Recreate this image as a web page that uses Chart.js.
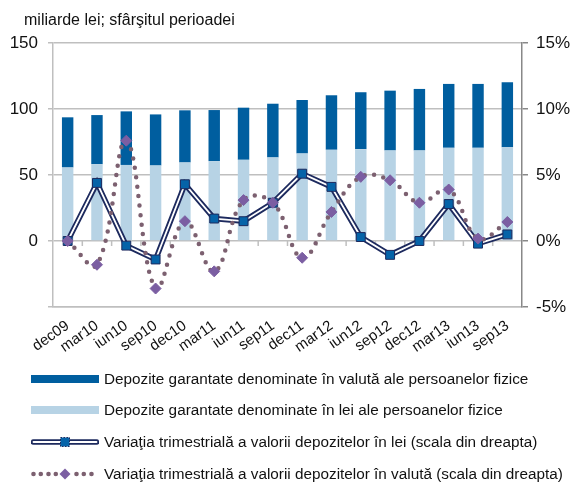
<!DOCTYPE html>
<html><head><meta charset="utf-8">
<script src="https://cdn.jsdelivr.net/npm/chart.js@4.4.1/dist/chart.umd.min.js"></script>
<style>
html,body{margin:0;padding:0;background:#fff;}
#wrap{position:relative;width:572px;height:483px;overflow:hidden;font-family:"Liberation Sans",Arial,sans-serif;color:#111;}
#c{position:absolute;left:0;top:0;}
#title{position:absolute;left:24px;top:11px;font-size:16px;white-space:nowrap;}
.leg{position:absolute;left:31px;height:20px;display:flex;align-items:center;font-size:15.3px;white-space:nowrap;}
.leg svg{margin-right:5px;flex:none;}
</style></head>
<body><div id="wrap"><canvas id="c" width="572" height="483"></canvas>
<div id="title">miliarde lei; sfârşitul perioadei</div>
<div id="legend"></div></div>
<script>
const categories = ['dec09','mar10','iun10','sep10','dec10','mar11','iun11','sep11','dec11','mar12','iun12','sep12','dec12','mar13','iun13','sep13'];
const depoziteLei = [55.7, 58.2, 57.6, 57.2, 59.5, 60.5, 61.5, 63.3, 66.3, 69.1, 69.6, 68.6, 68.6, 70.6, 70.6, 71.1];
const depoziteValuta = [38.0, 37.2, 40.6, 38.7, 39.5, 38.7, 39.5, 40.7, 40.5, 41.3, 43.1, 45.3, 46.6, 48.4, 48.4, 49.2];
const variatieLei = [0, 4.4, -0.35, -1.4, 4.3, 1.7, 1.5, 2.9, 5.1, 4.1, 0.3, -1.05, 0, 2.8, -0.2, 0.5];
const variatieValuta = [0, -1.8, 7.6, -3.6, 1.5, -2.3, 3.1, 2.9, -1.27, 2.2, 4.86, 4.6, 2.9, 3.9, 0.18, 1.44];
const leftTicks = [-50, 0, 50, 100, 150];
const rightTicks = [-5, 0, 5, 10, 15];

const legendLabels = [
  'Depozite garantate denominate în valută ale persoanelor fizice',
  'Depozite garantate denominate în lei ale persoanelor fizice',
  'Variaţia trimestrială a valorii depozitelor în lei (scala din dreapta)',
  'Variaţia trimestrială a valorii depozitelor în valută (scala din dreapta)'
];

const DARK = '#005E9F', LIGHT = '#B7D3E5', NAVY = '#1D2A5E', SQ = '#0563A8', DOT = '#7C6070', DIA = '#7B5EA2';
const GRID = '#BFBFBF';
const FONT = '"Liberation Sans", Arial, sans-serif';

const zeroTicks = {
  id: 'zeroTicks',
  beforeDatasetsDraw(chart) {
    const x = chart.scales.x, y = chart.scales.y, ctx = chart.ctx;
    const y0 = y.getPixelForValue(0);
    ctx.save();
    ctx.strokeStyle = GRID; ctx.lineWidth = 1.5;
    for (let i = 1; i < categories.length; i++) {
      const xb = (x.getPixelForValue(i - 1) + x.getPixelForValue(i)) / 2;
      ctx.beginPath(); ctx.moveTo(xb, y0); ctx.lineTo(xb, y0 + 5); ctx.stroke();
    }
    ctx.restore();
  }
};

new Chart(document.getElementById('c'), {
  data: {
    labels: categories,
    datasets: [
      { type: 'bar', label: legendLabels[1], data: depoziteLei, backgroundColor: LIGHT, yAxisID: 'y', order: 10, barPercentage: 0.39, categoryPercentage: 1 },
      { type: 'bar', label: legendLabels[0], data: depoziteValuta, backgroundColor: DARK, yAxisID: 'y', order: 11, barPercentage: 0.39, categoryPercentage: 1 },
      { type: 'line', label: 'outer', data: variatieLei, yAxisID: 'y1', borderColor: NAVY, borderWidth: 5.5, pointRadius: 0, tension: 0, order: 4, borderJoinStyle: 'miter' },
      { type: 'line', label: legendLabels[2], data: variatieLei, yAxisID: 'y1', borderColor: '#ffffff', borderWidth: 1.8, tension: 0, order: 3,
        pointStyle: 'rect', pointRadius: 6.3, pointBackgroundColor: SQ, pointBorderColor: NAVY, pointBorderWidth: 1 },
      { type: 'line', label: legendLabels[3], data: variatieValuta, yAxisID: 'y1', borderColor: DOT, borderWidth: 4.5, borderDash: [0, 9.5], borderCapStyle: 'round',
        tension: 0.4, order: 2, pointStyle: 'rectRot', pointRadius: 5.5, pointBackgroundColor: DIA, pointBorderColor: DIA, pointBorderWidth: 1 }
    ]
  },
  options: {
    responsive: false, animation: false,
    layout: { padding: { top: 43, left: 0, right: 0, bottom: 0 } },
    plugins: { legend: { display: false }, tooltip: { enabled: false } },
    scales: {
      x: {
        stacked: true,
        grid: { display: false },
        border: { display: true, color: GRID, width: 1.5 },
        ticks: { color: '#111', font: { family: FONT, size: 15 }, minRotation: 35, maxRotation: 35, padding: 2, autoSkip: false },
        afterFit(s) { s.height = 176; }
      },
      y: {
        stacked: true, position: 'left', min: -50, max: 150,
        afterBuildTicks(s) { s.ticks = leftTicks.map(v => ({ value: v })); },
        grid: { color: GRID, lineWidth: 1.5, tickLength: 5 },
        border: { color: GRID, width: 1.5 },
        ticks: { color: '#111', font: { family: FONT, size: 17 }, padding: 10, callback: v => v === -50 ? '' : v },
        afterFit(s) { s.width = 53; }
      },
      y1: {
        position: 'right', min: -5, max: 15,
        afterBuildTicks(s) { s.ticks = rightTicks.map(v => ({ value: v })); },
        grid: { drawOnChartArea: false, color: '#888', lineWidth: 1.5, tickLength: 6 },
        border: { color: '#888', width: 1.5 },
        ticks: { color: '#111', font: { family: FONT, size: 17 }, padding: 8, callback: v => v + '%' },
        afterFit(s) { s.width = 50; }
      }
    }
  },
  plugins: [zeroTicks]
});

// HTML legend
const symbols = [
  `<svg width="68" height="14"><rect x="0" y="3" width="68" height="8" fill="${DARK}"/></svg>`,
  `<svg width="68" height="14"><rect x="0" y="3" width="68" height="8" fill="${LIGHT}"/></svg>`,
  `<svg width="68" height="14"><line x1="2.5" y1="7" x2="65.5" y2="7" stroke="${NAVY}" stroke-width="5.5" stroke-linecap="round"/><line x1="2.5" y1="7" x2="65.5" y2="7" stroke="#fff" stroke-width="1.8" stroke-linecap="round"/><rect x="29.5" y="2.5" width="9" height="9" fill="${SQ}" stroke="${NAVY}" stroke-width="1" stroke-dasharray="1.5 1.5"/></svg>`,
  `<svg width="68" height="14">` + [2.5, 9.8, 17.5, 24.8, 45.5, 52.8, 60.5].map(cx => `<circle cx="${cx}" cy="7" r="2.3" fill="${DOT}"/>`).join('') +
    `<polygon points="34,1.5 39.5,7 34,12.5 28.5,7" fill="${DIA}"/></svg>`
];
const order = [0, 1, 2, 3];
const centers = [379, 410, 442, 474];
const lg = document.getElementById('legend');
order.forEach((k, i) => {
  const d = document.createElement('div');
  d.className = 'leg';
  d.style.top = (centers[i] - 10) + 'px';
  d.innerHTML = symbols[k] + '<span>' + legendLabels[k] + '</span>';
  lg.appendChild(d);
});
</script>
</body></html>
